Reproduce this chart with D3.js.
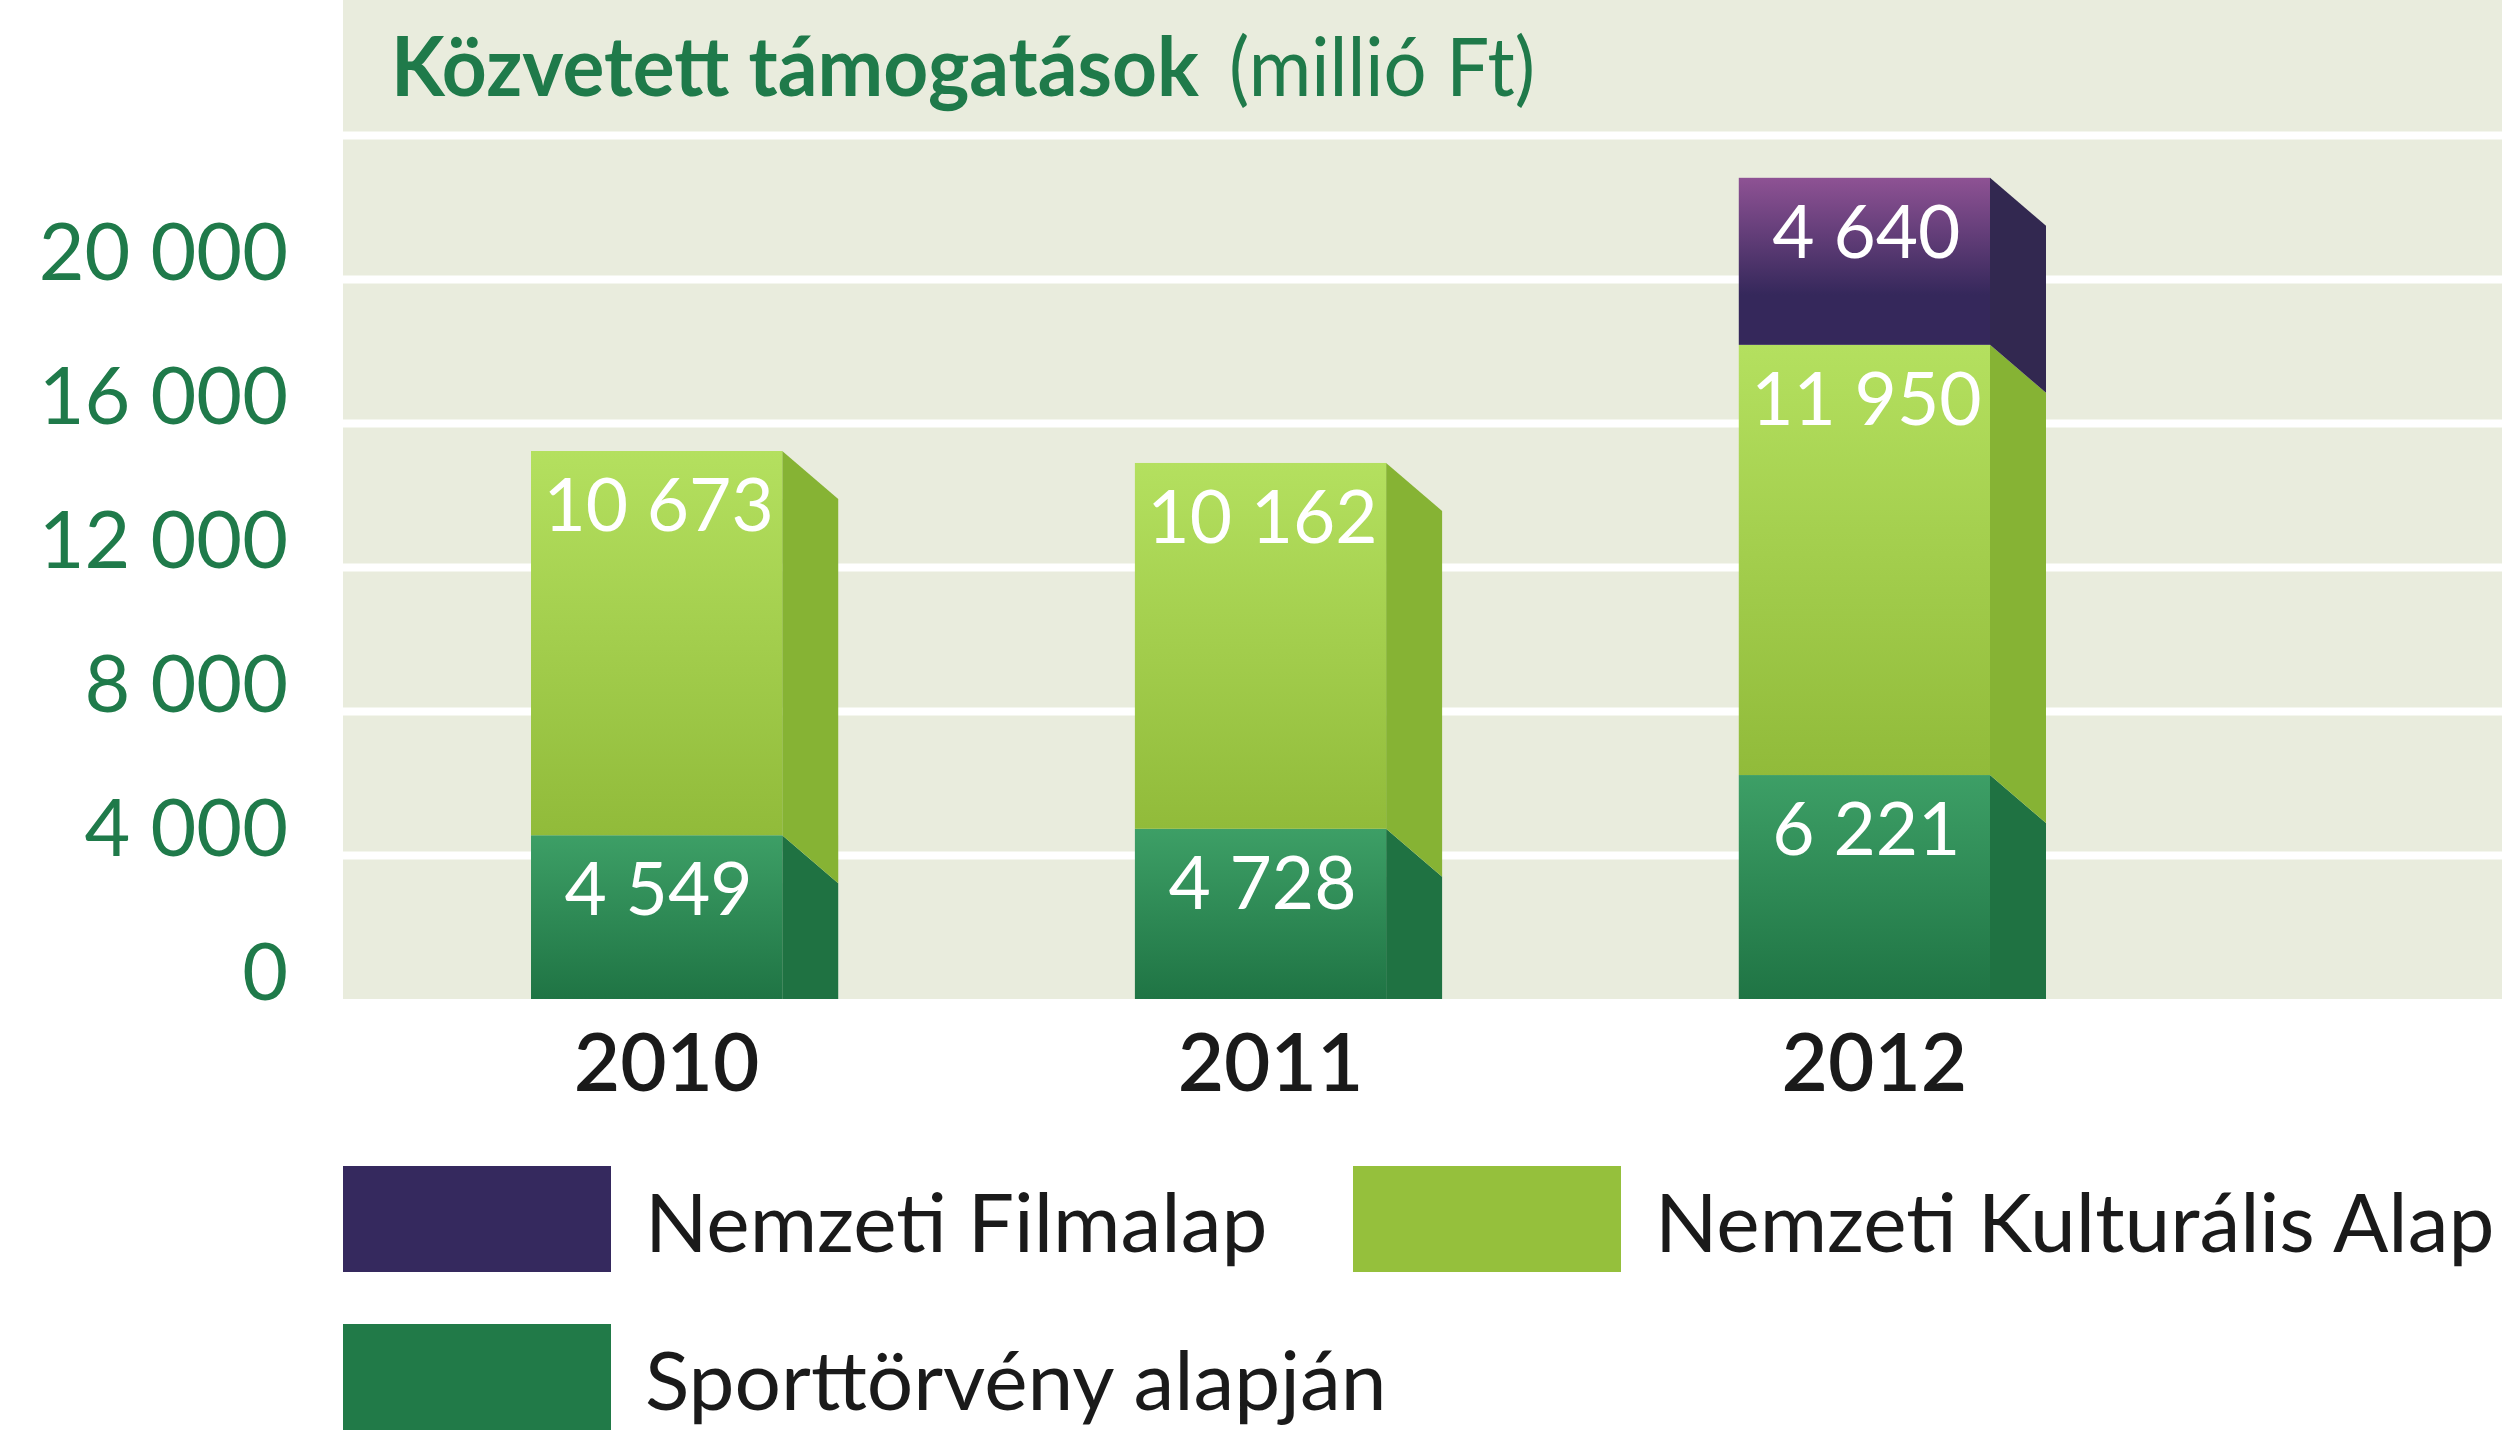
<!DOCTYPE html>
<html>
<head>
<meta charset="utf-8">
<script src="https://cdn.jsdelivr.net/npm/d3@7"></script>
<style>
	html, body { margin: 0; padding: 0; background: #ffffff; }
	svg { display: block; font-family: "Lato", "Open Sans", sans-serif; }
</style>
</head>
<body>
<div id="chart"></div>
<script>
// data (millió Ft)
const years = ["2010", "2011", "2012"];
const sport = [4549, 4728, 6221];      // Sporttörvény alapján
const nka = [10673, 10162, 11950];     // Nemzeti Kulturális Alap
const film = [0, 0, 4640];             // Nemzeti Filmalap
const yTicks = [0, 4000, 8000, 12000, 16000, 20000, 24000];
const labelTicks = [0, 4000, 8000, 12000, 16000, 20000];
const keys = ["sport", "nka", "film"];
const legendNames = ["Nemzeti Filmalap", "Nemzeti Kulturális Alap", "Sporttörvény alapján"];
const legendKeys = ["film", "nka", "sport"];

const width = 2502, height = 1430;
const plotLeft = 343;
const depthX = 56, depthY = 48;   // the 3d side of the bars

const colors = {
	sport: { top: "#3d9f66", bottom: "#1f7444", side: "#1f7242", legend: "#217a48" },
	nka: { top: "#b4e05f", bottom: "#91bb3a", side: "#86b334", legend: "#95c03c" },
	film: { top: "#8e5294", bottom: "#35285b", side: "#322850", legend: "#35295e" }
};

const table = years.map((y, i) => ({ year: y, sport: sport[i], nka: nka[i], film: film[i] }));
const stacked = d3.stack().keys(keys)(table);

const fmt = d3.formatLocale({ decimal: ",", thousands: " ", grouping: [3], currency: ["", ""] }).format(",d");

let x = d3.scaleBand()
	.domain(years)
	.range([531, 1990])
	.paddingInner(0.584)
	.paddingOuter(0);
let y = d3.scaleLinear()
	.domain([0, 24000])
	.range([999, 135]);

let svg = d3.select("#chart").append("svg")
	.attr("width", width)
	.attr("height", height);

// gradients for the front faces
let defs = svg.append("defs");
keys.forEach(k => {
	let g = defs.append("linearGradient")
		.attr("id", "grad-" + k)
		.attr("x1", 0).attr("y1", 0).attr("x2", 0).attr("y2", 1);
	g.append("stop").attr("offset", "0%").attr("stop-color", colors[k].top);
	if (k == "film") {
		g.append("stop").attr("offset", "70%").attr("stop-color", colors[k].bottom);
	}
	g.append("stop").attr("offset", "100%").attr("stop-color", colors[k].bottom);
});

// plot background
svg.append("rect")
	.attr("x", plotLeft)
	.attr("y", 0)
	.attr("width", width - plotLeft)
	.attr("height", y(0))
	.attr("fill", "#e9ecdd");

// white gridlines
let grid = svg.append("g")
	.attr("transform", `translate(${plotLeft},0)`)
	.call(d3.axisRight(y).tickValues(yTicks.filter(d => d > 0)).tickSize(width - plotLeft).tickFormat(""));
grid.select(".domain").remove();
grid.selectAll("line").attr("stroke", "#ffffff").attr("stroke-width", 8);

// y labels
let yAxis = svg.append("g")
	.attr("transform", "translate(288,0)")
	.call(d3.axisLeft(y).tickValues(labelTicks).tickSize(0).tickPadding(0).tickFormat(fmt));
yAxis.select(".domain").remove();
yAxis.selectAll("text")
	.attr("dy", 0)
	.attr("y", 0)
	.attr("font-family", "Lato")
	.attr("font-size", 79)
	.attr("fill", "#1f7a4a");

// title
svg.append("text")
	.text("Közvetett támogatások")
	.attr("x", 391)
	.attr("y", 96)
	.attr("font-size", 82)
	.attr("font-weight", 700)
	.attr("fill", "#1f7a4a")
	.attr("textLength", 808)
	.attr("lengthAdjust", "spacingAndGlyphs");
svg.append("text")
	.text("(millió Ft)")
	.attr("x", 1229)
	.attr("y", 96)
	.attr("font-size", 82)
	.attr("fill", "#1f7a4a")
	.attr("textLength", 306)
	.attr("lengthAdjust", "spacingAndGlyphs");

// bars: side faces first, then the fronts
let bars = svg.append("g").attr("id", "bars");
stacked.forEach(layer => {
	let k = layer.key;
	layer.forEach(d => {
		if (d[1] - d[0] <= 0) return;
		let xr = x(d.data.year) + x.bandwidth();
		let yTop = y(d[1]), yBot = y(d[0]);
		let pts = [
			[xr, yTop],
			[xr + depthX, yTop + depthY],
			[xr + depthX, Math.min(yBot + depthY, y(0))],
			[xr, yBot]
		];
		bars.append("path")
			.attr("d", d3.line()(pts) + "Z")
			.attr("fill", colors[k].side);
	});
});

stacked.forEach(layer => {
	let k = layer.key;
	bars.append("g")
		.selectAll("rect")
		.data(layer.filter(d => d[1] - d[0] > 0))
		.join("rect")
		.attr("x", d => x(d.data.year))
		.attr("y", d => y(d[1]))
		.attr("width", x.bandwidth())
		.attr("height", d => y(d[0]) - y(d[1]))
		.attr("fill", `url(#grad-${k})`);
	// value labels
	bars.append("g")
		.selectAll("text")
		.data(layer.filter(d => d[1] - d[0] > 0))
		.join("text")
		.text(d => fmt(d[1] - d[0]))
		.attr("x", d => x(d.data.year) + x.bandwidth() / 2 + 2)
		.attr("y", d => y(d[1]) + 80)
		.attr("text-anchor", "middle")
		.attr("font-size", 73)
		.attr("fill", "#ffffff");
});

// year labels
svg.append("g").selectAll("text")
	.data(years)
	.join("text")
	.text(d => d)
	.attr("x", d => x(d) + x.bandwidth() / 2 + 10)
	.attr("y", 1091)
	.attr("text-anchor", "middle")
	.attr("font-size", 80)
	.attr("font-weight", 600)
	.attr("fill", "#1a1a1a");

// legend
let legendPos = [[343, 1166], [1353, 1166], [343, 1324]];
let legend = svg.append("g").selectAll("g")
	.data(legendKeys)
	.join("g")
	.attr("transform", (d, i) => `translate(${legendPos[i][0]},${legendPos[i][1]})`);
legend.append("rect")
	.attr("width", 268)
	.attr("height", 106)
	.attr("fill", d => colors[d].legend);
legend.append("text")
	.text((d, i) => legendNames[i])
	.attr("x", 302)
	.attr("y", 86)
	.attr("font-size", 82)
	.attr("fill", "#1a1a1a");
</script>
</body>
</html>
